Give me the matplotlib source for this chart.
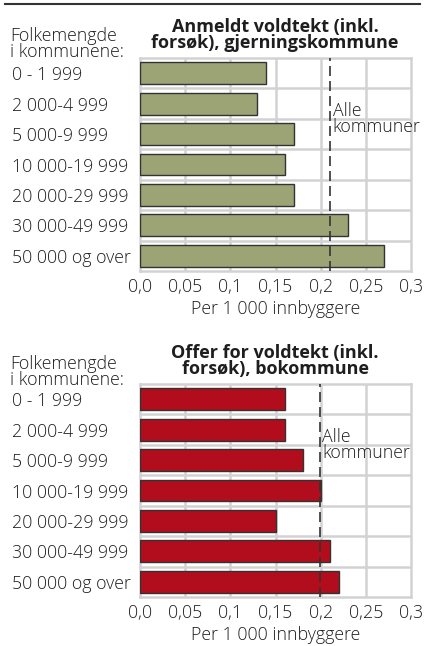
import matplotlib
matplotlib.use("Agg")
import matplotlib.pyplot as plt
from matplotlib.lines import Line2D

plt.rcParams['font.family'] = ['Open Sans', 'DejaVu Sans']
plt.rcParams['font.weight'] = 'light'
plt.rcParams['axes.labelweight'] = 'light'

categories = ["0 - 1 999", "2 000-4 999", "5 000-9 999", "10 000-19 999",
              "20 000-29 999", "30 000-49 999", "50 000 og over"]
anmeldt = [0.14, 0.13, 0.17, 0.16, 0.17, 0.23, 0.27]
offer = [0.16, 0.16, 0.18, 0.20, 0.15, 0.21, 0.22]
alle_anmeldt = 0.21
alle_offer = 0.199
xticks = [0, 0.05, 0.1, 0.15, 0.2, 0.25, 0.3]
xticklabels = ["0,0", "0,05", "0,1", "0,15", "0,2", "0,25", "0,3"]
titles = ["Anmeldt voldtekt (inkl.\nforsøk), gjerningskommune",
          "Offer for voldtekt (inkl.\nforsøk), bokommune"]
ylab = "Folkemengde\ni kommunene:"
xlab = "Per 1 000 innbyggere"
alle_label = "Alle\nkommuner"

W, H = 425, 646
fig = plt.figure(figsize=(W / 100, H / 100), dpi=100)

FS = 12.8
TFS = 13.0
TXT = '#1e1e1e'
GRID = '#d2d2d2'

def px_axes(left, top, right, bottom):
    return fig.add_axes([left / W, 1 - bottom / H, (right - left) / W, (bottom - top) / H])

panels = [
    dict(vals=anmeldt, alle=alle_anmeldt, color='#9ca374', top=58, bottom=271,
         title=titles[0], title_y=35, lab_y=44, alle_xy=(0.2135, 1.5)),
    dict(vals=offer, alle=alle_offer, color='#b20d1c', top=384, bottom=597,
         title=titles[1], title_y=361, lab_y=372, alle_xy=(0.2015, 1.5)),
]

for p in panels:
    ax = px_axes(140, p['top'], 411, p['bottom'])
    n = len(categories)
    y = list(range(n))
    ax.barh(y, p['vals'], height=0.72, color=p['color'], edgecolor='#333333',
            linewidth=1.0, zorder=3)
    ax.set_xlim(0, 0.3)
    ax.set_ylim(n - 0.5, -0.5)
    ax.set_xticks(xticks)
    ax.set_xticklabels(xticklabels, fontsize=FS, color=TXT)
    ax.set_yticks(y)
    ax.set_yticklabels(categories, fontsize=FS, color=TXT)
    for lbl in ax.get_yticklabels():
        lbl.set_horizontalalignment('left')
    ax.tick_params(axis='y', length=0, pad=92)
    ax.tick_params(axis='x', length=0, pad=5)
    for xv in xticks[1:-1]:
        ax.axvline(xv, color=GRID, lw=1.8, zorder=1)
    for k in range(1, n):
        ax.axhline(k - 0.5, color=GRID, lw=1.8, zorder=1)
    for s in ax.spines.values():
        s.set_color(GRID)
        s.set_linewidth(1.8)
    ax.axvline(p['alle'], color='#333333', lw=1.2, ls=(0, (6, 3)), zorder=4)
    ax.text(p['alle_xy'][0], p['alle_xy'][1], alle_label, fontsize=FS, color=TXT,
            ha='left', va='center', linespacing=0.85, zorder=5)
    ax.set_xlabel(xlab, fontsize=FS, color=TXT, labelpad=3)
    fig.text(275 / W, 1 - p['title_y'] / H, p['title'], fontsize=TFS, fontweight='bold',
             ha='center', va='center', linespacing=0.9, color=TXT)
    fig.text(10 / W, 1 - p['lab_y'] / H, ylab, fontsize=FS, ha='left', va='center',
             linespacing=0.8, color=TXT)

fig.add_artist(Line2D([5 / W, 420 / W], [1 - 4 / H, 1 - 4 / H], color='#333333', lw=1.5))

fig.savefig("out.png", dpi=100)
